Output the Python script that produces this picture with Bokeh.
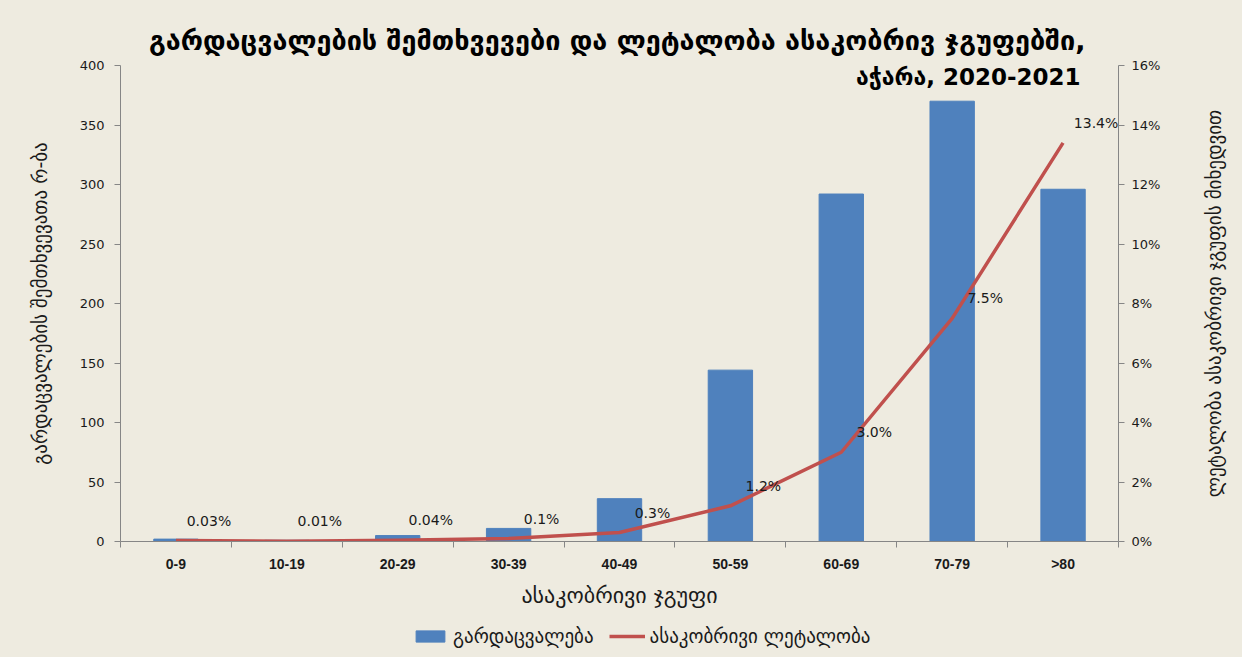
import math
from bokeh.plotting import figure
from bokeh.layouts import row, column
from bokeh.models import (ColumnDataSource, Range1d, LinearAxis, FixedTicker, PrintfTickFormatter,
                          Legend, LegendItem, Label, LabelSet)
from bokeh.core.properties import value
from bokeh.embed import file_html
from bokeh.resources import INLINE

# ---------------- data ----------------
age_groups = ["0-9", "10-19", "20-29", "30-39", "40-49", "50-59", "60-69", "70-79", ">80"]
deaths = [2, 1, 5, 11, 36, 144, 292, 370, 296]
lethality_pct = [0.03, 0.01, 0.04, 0.1, 0.3, 1.2, 3.0, 7.5, 13.4]
lethality_labels = ["0.03%", "0.01%", "0.04%", "0.1%", "0.3%", "1.2%", "3.0%", "7.5%", "13.4%"]
left_ticks = [0, 50, 100, 150, 200, 250, 300, 350, 400]
right_ticks = [0, 2, 4, 6, 8, 10, 12, 14, 16]

title_line1 = "გარდაცვალების შემთხვევები და ლეტალობა ასაკობრივ ჯგუფებში,"
title_line2 = "აჭარა, 2020-2021"
left_axis_title = "გარდაცვალების შემთხვევათა რ-ბა"
right_axis_title = "ლეტალობა ასაკობრივი ჯგუფის მიხედვით"
x_axis_title = "ასაკობრივი ჯგუფი"
series_deaths_name = "გარდაცვალება"
series_leth_name = "ასაკობრივი ლეტალობა"

# ---------------- style ----------------
BG = "#EEEBE0"
BLUE = "#4F81BD"
RED = "#C0504D"
AXIS = "#868686"
TXT = "#1a1a1a"
GEO = "DejaVu Sans"
NUM = "DejaVu Sans"

MAIN_W, MAIN_H = 1190, 615
LEG_H = 657 - MAIN_H
LAB_W = 1242 - MAIN_W

n = len(age_groups)
xs = list(range(n))
src = ColumnDataSource(dict(x=xs, deaths=deaths, pct=lethality_pct, lbl=lethality_labels))

p = figure(width=MAIN_W, height=MAIN_H, output_backend="svg", toolbar_location=None,
           x_range=Range1d(-0.5, n - 0.5), y_range=Range1d(0, 400),
           min_border_left=120, min_border_right=MAIN_W - 1118, min_border_top=65,
           min_border_bottom=MAIN_H - 541,
           background_fill_color=BG, border_fill_color=BG, outline_line_color=None)
p.xgrid.visible = False
p.ygrid.visible = False
p.extra_y_ranges = {"pct": Range1d(0, 16)}

bars = p.vbar(x="x", top="deaths", width=0.4, source=src, fill_color=BLUE, line_color=BLUE)
line = p.line(x="x", y="pct", source=src, y_range_name="pct", line_color=RED, line_width=3.5,
              line_join="round")

labels = LabelSet(x="x", y="pct", text="lbl", source=src, y_range_name="pct",
                  x_offset=33, y_offset=20, text_align="center", text_baseline="middle",
                  text_font=value(NUM), text_font_size="14px", text_color=TXT)
p.add_layout(labels)

# title: first line above the frame, second line overlapping the frame top (as in reference)
p.title.text = title_line1
p.title.align = "right"
p.title.offset = 33
p.title.standoff = 19
p.title.text_font = GEO
p.title.text_font_style = "bold"
p.title.text_font_size = "27px"
p.title.text_color = "#000000"
t2 = Label(x=960, y=465, x_units="screen", y_units="screen", text=title_line2,
           text_align="right", text_baseline="middle", text_font=GEO, text_font_style="bold",
           text_font_size="23px", text_color="#000000")
p.add_layout(t2)

# x axis
xax = p.xaxis[0]
xax.ticker = FixedTicker(ticks=xs, minor_ticks=[i - 0.5 for i in range(n + 1)])
xax.major_label_overrides = {i: g for i, g in zip(xs, age_groups)}
xax.major_tick_out = 0
xax.major_tick_in = 0
xax.minor_tick_out = 6
xax.minor_tick_in = 0
xax.minor_tick_line_color = AXIS
xax.axis_line_color = AXIS
xax.major_label_standoff = 8
xax.major_label_text_font = "Liberation Sans"
xax.major_label_text_font_style = "bold"
xax.major_label_text_font_size = "14px"
xax.major_label_text_color = TXT
xax.axis_label = x_axis_title
xax.axis_label_text_font = GEO
xax.axis_label_text_font_style = "normal"
xax.axis_label_text_font_size = "22px"
xax.axis_label_text_color = TXT
xax.axis_label_standoff = 8

# left axis
yax = p.yaxis[0]
yax.ticker = FixedTicker(ticks=left_ticks)
yax.minor_tick_line_color = None
yax.major_tick_out = 6
yax.major_tick_in = 0
yax.major_tick_line_color = AXIS
yax.axis_line_color = AXIS
yax.major_label_text_font = NUM
yax.major_label_text_font_size = "13px"
yax.major_label_text_color = TXT
yax.major_label_standoff = 10
yax.axis_label = left_axis_title
yax.axis_label_text_font = GEO
yax.axis_label_text_font_style = "normal"
yax.axis_label_text_font_size = "19px"
yax.axis_label_text_color = TXT
yax.axis_label_standoff = 26

# right axis (its title is drawn in the narrow strip to the right)
rax = LinearAxis(y_range_name="pct", ticker=FixedTicker(ticks=right_ticks),
                 formatter=PrintfTickFormatter(format="%d%%"))
rax.minor_tick_line_color = None
rax.major_tick_out = 6
rax.major_tick_in = 0
rax.major_tick_line_color = AXIS
rax.axis_line_color = AXIS
rax.major_label_text_font = NUM
rax.major_label_text_font_size = "13px"
rax.major_label_text_color = TXT
rax.major_label_standoff = 7
p.add_layout(rax, "right")

# ---------------- legend strip ----------------
leg = figure(width=MAIN_W, height=LEG_H, output_backend="svg", toolbar_location=None,
             x_range=Range1d(0, 1), y_range=Range1d(0, 1), min_border=0,
             x_axis_location=None, y_axis_location=None,
             background_fill_alpha=0, border_fill_alpha=0, outline_line_color=None)
leg.xgrid.visible = False
leg.ygrid.visible = False
# same series as the chart; hidden here, only used to draw the legend swatches
lg_bar = leg.vbar(x="x", top="deaths", width=0.4, source=src, fill_color=BLUE, line_color=BLUE,
                  visible=False)
lg_line = leg.line(x="x", y="pct", source=src, line_color=RED, line_width=3.5, visible=False)
legend = Legend(items=[LegendItem(label=series_deaths_name, renderers=[lg_bar]),
                       LegendItem(label=series_leth_name, renderers=[lg_line])],
                orientation="horizontal", location=(292, 10),
                background_fill_alpha=0, border_line_color=None,
                inactive_fill_alpha=0,
                label_text_font=GEO, label_text_font_size="19px", label_text_color=TXT,
                glyph_width=36, glyph_height=14, spacing=15, margin=0, padding=0)
leg.add_layout(legend, "center")

# ---------------- right axis title strip ----------------
lab = figure(width=LAB_W, height=657, output_backend="svg", toolbar_location=None,
             x_range=Range1d(0, 1), y_range=Range1d(0, 1), min_border=0,
             x_axis_location=None, y_axis_location=None,
             background_fill_alpha=0, border_fill_alpha=0, outline_line_color=None)
lab.xgrid.visible = False
lab.ygrid.visible = False
rt = Label(x=23, y=657 - 303, x_units="screen", y_units="screen", text=right_axis_title,
           angle=math.pi / 2, text_align="center", text_baseline="middle",
           text_font=GEO, text_font_size="19px", text_color=TXT)
lab.add_layout(rt)

layout = row(column(p, leg, spacing=0), lab, spacing=0)
layout.styles = {"background-color": BG}

open("out.html", "w").write(file_html(layout, INLINE))
